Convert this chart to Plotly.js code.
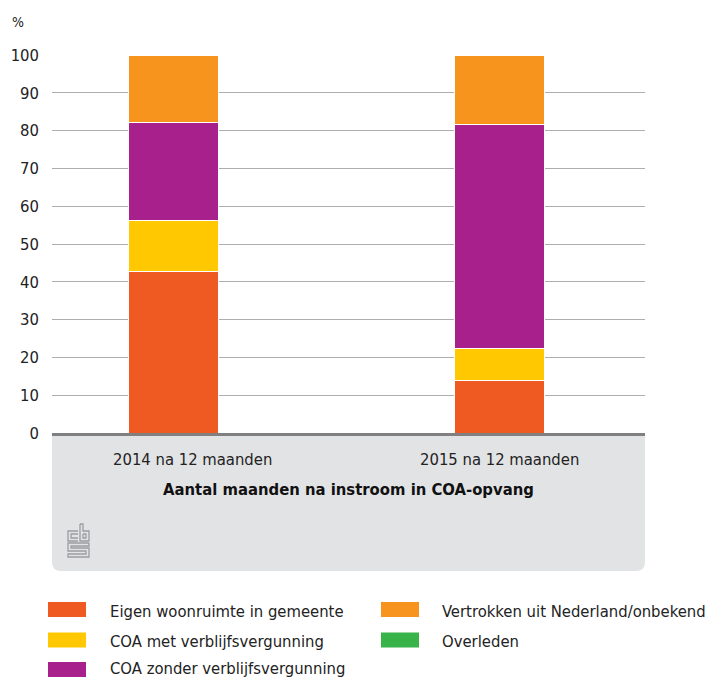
<!DOCTYPE html>
<html>
<head>
<meta charset="utf-8">
<script src="https://cdn.plot.ly/plotly-3.0.1.min.js"></script>
<style>
html,body{margin:0;padding:0;background:#fff;}
#chart{width:710px;height:679px;}
</style>
</head>
<body>
<div id="chart"></div>
<script>
// ---- data ----
const categories = ['2014 na 12 maanden', '2015 na 12 maanden'];
const seriesNames = ['Eigen woonruimte in gemeente', 'COA met verblijfsvergunning', 'COA zonder verblijfsvergunning', 'Vertrokken uit Nederland/onbekend', 'Overleden'];
const eigenWoonruimte = [42.6, 13.8];
const coaMet = [13.7, 8.6];
const coaZonder = [25.9, 59.3];
const vertrokken = [17.7, 18.2];
const overleden = [0.1, 0.1];
const yTicks = [0, 10, 20, 30, 40, 50, 60, 70, 80, 90, 100];
const xAxisTitle = 'Aantal maanden na instroom in COA-opvang';
const unitLabel = '%';

// ---- style ----
const colors = ['#ef5a22', '#ffc800', '#a8208c', '#f6941e', '#37b34a'];
const FONT = '"DejaVu Sans Condensed", "Liberation Sans Narrow", "DejaVu Sans", sans-serif';
const TXT = '#222222';
const values = [eigenWoonruimte, coaMet, coaZonder, vertrokken, overleden];

const traces = values.map((v, i) => ({
  type: 'bar',
  name: seriesNames[i],
  x: categories,
  y: v,
  marker: {color: colors[i], line: {color: '#ffffff', width: 1}},
  showlegend: false,
  hoverinfo: 'name+y'
}));

// pixel -> paper helpers (plot area L=52, R=645, T=55, B=433)
const L = 52, R = 645, T = 55, B = 433;
const px = x => (x - L) / (R - L);
const py = y => (B - y) / (B - T);

const shapes = [];
const annotations = [];

// grey panel under the x axis with rounded bottom corners
const r = 9;
shapes.push({
  type: 'path', xref: 'paper', yref: 'paper', layer: 'below',
  path: `M${px(52)},${py(433)} L${px(645)},${py(433)} L${px(645)},${py(571 - r)} Q${px(645)},${py(571)} ${px(645 - r)},${py(571)} L${px(52 + r)},${py(571)} Q${px(52)},${py(571)} ${px(52)},${py(571 - r)} Z`,
  fillcolor: '#e2e3e5', line: {width: 0}
});

// cbs logo (decorative outline)
const logoPaths = [
  // c
  [[78,531],[68,531],[68,541],[78,541]],
  [[78,534],[71,534],[71,538],[78,538]],
  // b
  [[80,524],[80,541],[89,541],[89,531],[83,531],[83,524],[80,524]],
  [[83,534],[86,534],[86,538],[83,538],[83,534]],
  // S
  [[89,543],[68,543],[68,551],[86,551],[86,554],[68,554],[68,557],[89,557],[89,548],[71,548],[71,546],[89,546],[89,543]]
];
logoPaths.forEach(pts => {
  shapes.push({
    type: 'path', xref: 'paper', yref: 'paper', layer: 'above',
    path: pts.map((p, k) => (k === 0 ? 'M' : 'L') + px(p[0]) + ',' + py(p[1])).join(' '),
    line: {color: '#9c9da0', width: 1.3}
  });
});

// category labels (the 2014 label sits slightly right of its bar in the reference)
const labelShift = [19, 0];
categories.forEach((c, i) => {
  annotations.push({
    xref: 'x', yref: 'paper', x: c, y: py(459), xshift: labelShift[i],
    xanchor: 'center', yanchor: 'middle', showarrow: false,
    text: c, font: {family: FONT, size: 16.5, color: TXT}
  });
});

// axis title
annotations.push({
  xref: 'paper', yref: 'paper', x: 0.5, y: py(489),
  xanchor: 'center', yanchor: 'middle', showarrow: false,
  text: '<b>' + xAxisTitle + '</b>', font: {family: FONT, size: 16.5, color: '#111111'}
});

// custom legend
const legendPos = [[0,0],[0,1],[0,2],[1,0],[1,1]];
const swatchX = [48, 381], textX = [108, 440], rowY = [609.5, 640, 669.5];
const textY = [611, 641.5, 668.5];
seriesNames.forEach((n, i) => {
  const c = legendPos[i][0], rr = legendPos[i][1];
  shapes.push({
    type: 'rect', xref: 'paper', yref: 'paper',
    x0: px(swatchX[c]), x1: px(swatchX[c] + 38),
    y0: py(rowY[rr] - 7.5), y1: py(rowY[rr] + 7.5),
    fillcolor: colors[i], line: {width: 0}
  });
  annotations.push({
    xref: 'paper', yref: 'paper', x: px(textX[c]), y: py(textY[rr]),
    xanchor: 'left', yanchor: 'middle', showarrow: false,
    text: n, font: {family: FONT, size: 16.5, color: TXT}
  });
});

// unit label
annotations.push({
  xref: 'paper', yref: 'paper', x: px(10), y: py(22),
  xanchor: 'left', yanchor: 'middle', showarrow: false,
  text: unitLabel, font: {family: FONT, size: 14, color: TXT}
});

const layout = {
  width: 710, height: 679,
  margin: {l: L, r: 710 - R, t: T, b: 679 - B},
  paper_bgcolor: '#ffffff', plot_bgcolor: '#ffffff',
  barmode: 'stack', bargap: 0.724,
  font: {family: FONT, size: 16.5, color: TXT},
  showlegend: false,
  xaxis: {
    type: 'category',
    range: [-0.374, 1.445],
    showgrid: false, zeroline: false,
    showline: true, linecolor: '#808080', linewidth: 3,
    ticks: '', showticklabels: false,
    automargin: false, fixedrange: true
  },
  yaxis: {
    range: [0, 100],
    tickvals: yTicks, ticktext: yTicks.map(String),
    showgrid: true, gridcolor: '#aeaeae', gridwidth: 1,
    zeroline: false, showline: false,
    ticks: '', ticklabelstandoff: 12,
    tickfont: {family: FONT, size: 16.5, color: TXT},
    automargin: false, fixedrange: true
  },
  shapes: shapes,
  annotations: annotations
};

Plotly.newPlot('chart', traces, layout, {displayModeBar: false, staticPlot: true});
</script>
</body>
</html>
